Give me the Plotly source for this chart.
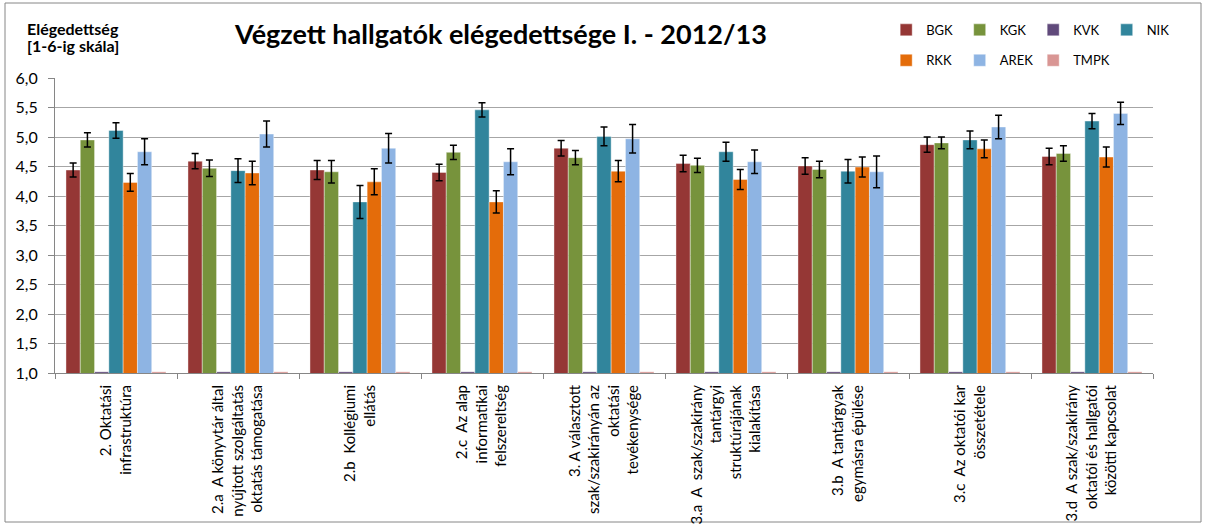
import plotly.graph_objects as go

# categories (x axis)
categories = [
    "2. Oktatási<br>infrastruktúra",
    "2.a  A könyvtár által<br>nyújtott szolgáltatás<br>oktatás támogatása",
    "2.b  Kollégiumi<br>ellátás",
    "2.c  Az alap<br>informatikai<br>felszereltség",
    "3. A választott<br>szak/szakirányán az<br>oktatási<br>tevékenysége",
    "3.a  A  szak/szakirány<br>tantárgyi<br>struktúrájának<br>kialakítása",
    "3.b  A tantárgyak<br>egymásra épülése",
    "3.c  Az oktatói kar<br>összetétele",
    "3.d  A szak/szakirány<br>oktatói és hallgatói<br>közötti kapcsolat",
]

# series values and error bar half-widths
BGK = [4.44, 4.59, 4.44, 4.40, 4.81, 4.55, 4.51, 4.87, 4.67]
BGK_err = [0.12, 0.13, 0.16, 0.14, 0.13, 0.14, 0.14, 0.13, 0.14]
KGK = [4.95, 4.47, 4.41, 4.74, 4.65, 4.52, 4.45, 4.90, 4.72]
KGK_err = [0.12, 0.14, 0.19, 0.12, 0.12, 0.12, 0.14, 0.10, 0.13]
KVK = [1.02, 1.02, 1.02, 1.02, 1.02, 1.02, 1.02, 1.02, 1.02]
NIK = [5.11, 4.43, 3.90, 5.46, 5.01, 4.75, 4.42, 4.95, 5.27]
NIK_err = [0.13, 0.20, 0.28, 0.12, 0.16, 0.16, 0.20, 0.15, 0.13]
RKK = [4.23, 4.39, 4.24, 3.90, 4.42, 4.28, 4.49, 4.80, 4.66]
RKK_err = [0.15, 0.20, 0.22, 0.19, 0.18, 0.17, 0.17, 0.15, 0.17]
AREK = [4.75, 5.05, 4.81, 4.58, 4.97, 4.58, 4.41, 5.17, 5.40]
AREK_err = [0.22, 0.22, 0.25, 0.22, 0.24, 0.20, 0.27, 0.20, 0.19]
TMPK = [1.02, 1.02, 1.02, 1.02, 1.02, 1.02, 1.02, 1.02, 1.02]

y_ticks = [1.0, 1.5, 2.0, 2.5, 3.0, 3.5, 4.0, 4.5, 5.0, 5.5, 6.0]

FONT = "Lato"

series = [
    ("BGK", BGK, BGK_err, "#953735", "legend"),
    ("KGK", KGK, KGK_err, "#77933C", "legend"),
    ("KVK", KVK, None, "#604A7B", "legend"),
    ("NIK", NIK, NIK_err, "#31859C", "legend"),
    ("RKK", RKK, RKK_err, "#E46C0A", "legend2"),
    ("AREK", AREK, AREK_err, "#8EB4E3", "legend2"),
    ("TMPK", TMPK, None, "#D99694", "legend2"),
]

fig = go.Figure()
for name, vals, err, color, leg in series:
    fig.add_trace(go.Bar(
        x=categories, y=vals, name=name,
        marker=dict(color=color, line=dict(color="rgba(255,255,255,0.4)", width=1)),
        error_y=dict(type="data", array=err, visible=err is not None,
                     color="black", thickness=1.5, width=3.5),
        legend=leg,
        # last entry of a row gets a wider slot so its text is not clipped
        legendwidth=45 if name in ("NIK", "TMPK") else None,
    ))

fig.update_layout(
    width=1206, height=526,
    margin=dict(l=55, r=53, t=78, b=153, autoexpand=False),
    paper_bgcolor="white", plot_bgcolor="white",
    font=dict(family=FONT, color="black"),
    separators=", ",
    barmode="group", bargap=0.18, bargroupgap=0,
    title=dict(text="<b>Végzett hallgatók elégedettsége I. - 2012/13</b>",
               x=501 / 1206, xanchor="center", y=1 - 35 / 526, yanchor="middle",
               font=dict(size=27, family=FONT)),
    legend=dict(orientation="h", x=0.757, xanchor="left", y=1.163, yanchor="middle",
                entrywidth=28.5, itemwidth=30, font=dict(size=13), traceorder="normal",
                bgcolor="rgba(0,0,0,0)"),
    legend2=dict(orientation="h", x=0.757, xanchor="left", y=1.06, yanchor="middle",
                 entrywidth=28.5, itemwidth=30, font=dict(size=13), traceorder="normal",
                 bgcolor="rgba(0,0,0,0)"),
)

fig.update_xaxes(
    showline=True, linecolor="#868686", linewidth=1,
    ticks="outside", tickson="boundaries", ticklen=5, tickcolor="#868686",
    ticklabelstandoff=5,
    tickangle=-90, tickfont=dict(size=15), showgrid=False,
)
fig.update_yaxes(
    range=[1, 6], tickvals=y_ticks, tickformat=".1f",
    showline=True, linecolor="#868686", linewidth=1,
    ticks="outside", ticklen=6, tickcolor="#868686", ticklabelstandoff=7,
    tickfont=dict(size=16), showgrid=True, gridcolor="#A6A6A6", gridwidth=1,
    zeroline=False,
)

# y axis title, two lines
fig.add_annotation(text="<b>Elégedettség</b>", xref="paper", yref="paper",
                   x=(25 - 55) / 1098, xanchor="left", y=(373 - 28) / 295, yanchor="middle",
                   showarrow=False, font=dict(size=16, family=FONT))
fig.add_annotation(text="<b>[1-6-ig skála]</b>", xref="paper", yref="paper",
                   x=(25 - 55) / 1098, xanchor="left", y=(373 - 46) / 295, yanchor="middle",
                   showarrow=False, font=dict(size=16, family=FONT))

# chart frame
fig.add_shape(type="rect", xref="paper", yref="paper",
              x0=(5 - 55) / 1098, x1=(1201 - 55) / 1098,
              y0=(373 - 522) / 295, y1=(373 - 3) / 295,
              line=dict(color="#868686", width=1), layer="below")

fig.write_html("out.html", config={"displayModeBar": False},
               post_script="document.body.style.margin='0';document.body.style.overflow='hidden';")
